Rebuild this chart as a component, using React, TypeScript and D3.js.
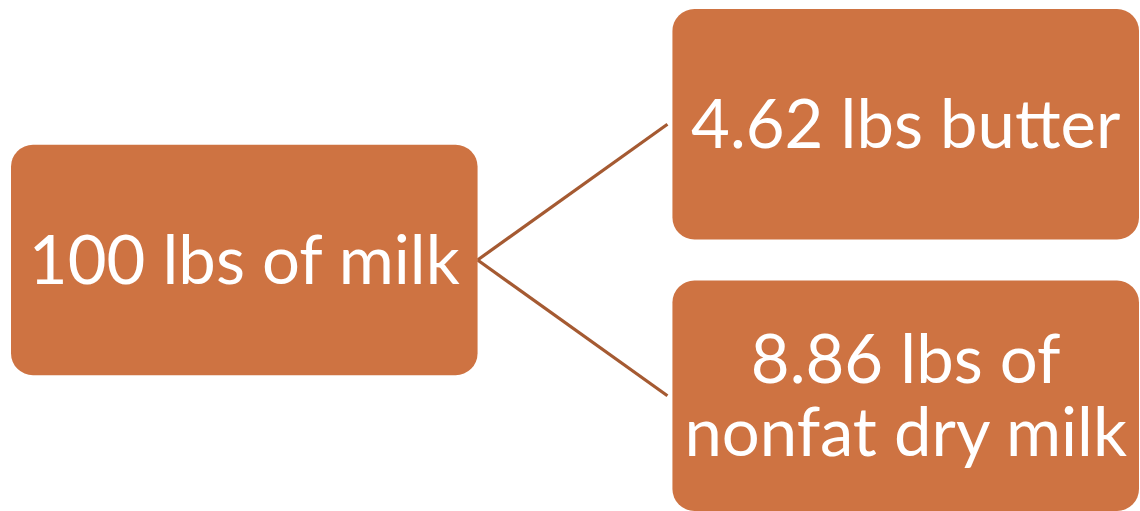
import React, { useRef, useEffect } from 'react';
import * as d3 from 'd3';

// Diagram content
const sourceLabel = ['100 lbs of milk'];
const productLabels = [['4.62 lbs butter'], ['8.86 lbs of', 'nonfat dry milk']];

const WIDTH = 1140;
const HEIGHT = 511;
const BOX_FILL = '#CE7342';
const LINK_COLOR = '#A55A32';

const App: React.FC = () => {
  const svgRef = useRef<SVGSVGElement>(null);

  useEffect(() => {
    if (!svgRef.current) return;
    const svg = d3.select(svgRef.current);
    svg.selectAll('*').remove();

    const fontFamily = "'Lato', 'Open Sans', sans-serif";
    const fontSize = 67;
    const lineHeight = 73;

    // columns: source on the left, products on the right
    const x = d3.scaleBand<string>()
      .domain(['source', 'products'])
      .range([11, 1139])
      .paddingInner(0.2946);

    // rows of the right column
    const y = d3.scaleBand<number>()
      .domain(d3.range(productLabels.length))
      .range([9, 511])
      .paddingInner(0.151);

    const colW = x.bandwidth();
    const rowH = y.bandwidth();
    const srcX = x('source') || 0;
    const prodX = x('products') || 0;
    const srcCy = ((y(0) || 0) + rowH / 2 + (y(1) || 0) + rowH / 2) / 2;
    const srcY = srcCy - rowH / 2;

    // connector lines
    productLabels.forEach((_, i) => {
      const ty = (y(i) || 0) + rowH / 2;
      svg.append('line')
        .attr('x1', srcX + colW)
        .attr('y1', srcCy)
        .attr('x2', prodX - 5)
        .attr('y2', ty)
        .attr('stroke', LINK_COLOR)
        .attr('stroke-width', 3.2);
    });

    const drawBox = (bx: number, by: number, bw: number, bh: number, lines: string[]) => {
      svg.append('rect')
        .attr('x', bx)
        .attr('y', by)
        .attr('width', bw)
        .attr('height', bh)
        .attr('rx', 22)
        .attr('ry', 22)
        .attr('fill', BOX_FILL);

      const cy = by + bh / 2;
      const firstBase = cy - ((lines.length - 1) * lineHeight) / 2 + fontSize * 0.36;
      lines.forEach((t, j) => {
        svg.append('text')
          .attr('x', bx + bw / 2)
          .attr('y', firstBase + j * lineHeight)
          .attr('text-anchor', 'middle')
          .attr('font-family', fontFamily)
          .attr('font-size', fontSize)
          .attr('fill', '#ffffff')
          .text(t);
      });
    };

    drawBox(srcX, srcY, colW, rowH, sourceLabel);
    productLabels.forEach((lines, i) => {
      drawBox(prodX, y(i) || 0, colW, rowH, lines);
    });
  }, []);

  return (
    <div style={{ position: 'absolute', left: 0, top: 0, width: WIDTH, height: HEIGHT, background: '#fff' }}>
      <svg ref={svgRef} width={WIDTH} height={HEIGHT} style={{ display: 'block' }} />
    </div>
  );
};

export default App;
